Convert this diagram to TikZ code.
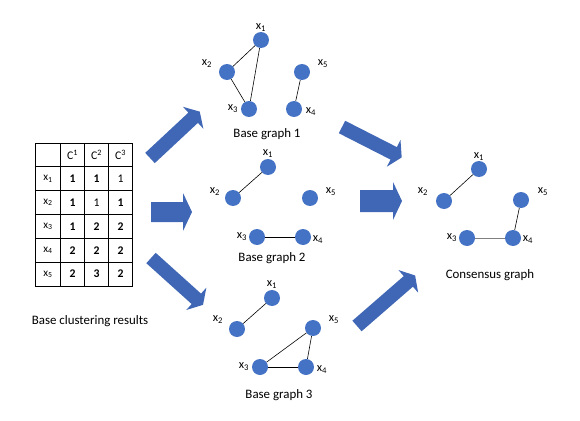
\documentclass[tikz,border=0pt]{standalone}
\usepackage{fontspec}
\setmainfont{Carlito}
\usetikzlibrary{matrix}
\definecolor{nodeblue}{HTML}{4472C4}
\definecolor{arrowblue}{HTML}{4067B5}
% fat arrow: tail x, tail y, angle, length, shaft half width, head half width
\newcommand{\fatarrow}[6]{%
  \fill[arrowblue, shift={(#1,#2)}, rotate=#3]
    (0,-#5) -- (#4-9,-#5) -- (#4-9,-#6) -- (#4,0) -- (#4-9,#6) -- (#4-9,#5) -- (0,#5) -- cycle;}
\begin{document}
\begin{tikzpicture}[x=0.03cm, y=-0.03cm]
  \tikzset{vtx/.style={circle, fill=nodeblue, minimum size=0.48cm, inner sep=0pt},
           lbl/.style={font=\fontsize{10.5}{12}\selectfont, inner sep=0pt},
           gcap/.style={font=\fontsize{11}{13}\selectfont, inner sep=0pt},
           edge/.style={black, line width=0.5pt}}
  \useasboundingbox (0,0) rectangle (580,421);

  % base clustering results
  \matrix (tab) [matrix of nodes, column sep=-0.6pt, row sep=-0.6pt,
    nodes={draw, line width=0.6pt, anchor=center, minimum width=0.72cm, minimum height=0.715cm,
           inner sep=0pt, font=\fontsize{10}{12}\selectfont},
    column 1/.style={nodes={minimum width=0.75cm, font=\fontsize{9.5}{11}\selectfont}}]
    at (84,214.5) {
    \phantom{x} & C\textsuperscript{1} & C\textsuperscript{2} & C\textsuperscript{3} \\
    x\textsubscript{1} & \textbf{1} & \textbf{1} & 1 \\
    x\textsubscript{2} & \textbf{1} & 1 & \textbf{1} \\
    x\textsubscript{3} & \textbf{1} & \textbf{2} & \textbf{2} \\
    x\textsubscript{4} & \textbf{2} & \textbf{2} & \textbf{2} \\
    x\textsubscript{5} & \textbf{2} & \textbf{3} & \textbf{2} \\
  };
  \node[gcap] (tabcap) at (90,321) {Base clustering results};

  % base graph 1
  \node[vtx] (a1) at (261,40) {};
  \node[vtx] (a2) at (227,72) {};
  \node[vtx] (a3) at (249,109) {};
  \node[vtx] (a4) at (294,109) {};
  \node[vtx] (a5) at (302,72) {};
  \node[lbl] (la1) at (261,28) {x\textsubscript{1}};
  \node[lbl] (la2) at (207,64) {x\textsubscript{2}};
  \node[lbl] (la3) at (233,109) {x\textsubscript{3}};
  \node[lbl] (la4) at (311,112) {x\textsubscript{4}};
  \node[lbl] (la5) at (323,64) {x\textsubscript{5}};
  \draw[edge] (a1) -- (a2);
  \draw[edge] (a1) -- (a3);
  \draw[edge] (a2) -- (a3);
  \draw[edge] (a5) -- (a4);
  \node[gcap] (capa) at (267,134) {Base graph 1};

  % base graph 2
  \node[vtx] (b1) at (268,167) {};
  \node[vtx] (b2) at (233,198) {};
  \node[vtx] (b3) at (257,237) {};
  \node[vtx] (b4) at (303,237) {};
  \node[vtx] (b5) at (310,198) {};
  \node[lbl] (lb1) at (268,154) {x\textsubscript{1}};
  \node[lbl] (lb2) at (215,192) {x\textsubscript{2}};
  \node[lbl] (lb3) at (242,237) {x\textsubscript{3}};
  \node[lbl] (lb4) at (318,240) {x\textsubscript{4}};
  \node[lbl] (lb5) at (331,192) {x\textsubscript{5}};
  \draw[edge] (b1) -- (b2);
  \draw[edge] (b3) -- (b4);
  \node[gcap] (capb) at (272,258) {Base graph 2};

  % base graph 3
  \node[vtx] (c1) at (272,298) {};
  \node[vtx] (c2) at (237,329) {};
  \node[vtx] (c3) at (260,367) {};
  \node[vtx] (c4) at (306,367) {};
  \node[vtx] (c5) at (313,328) {};
  \node[lbl] (lc1) at (272,285) {x\textsubscript{1}};
  \node[lbl] (lc2) at (218,320) {x\textsubscript{2}};
  \node[lbl] (lc3) at (244,367) {x\textsubscript{3}};
  \node[lbl] (lc4) at (322,370) {x\textsubscript{4}};
  \node[lbl] (lc5) at (334,320) {x\textsubscript{5}};
  \draw[edge] (c1) -- (c2);
  \draw[edge] (c5) -- (c3);
  \draw[edge] (c5) -- (c4);
  \draw[edge] (c3) -- (c4);
  \node[gcap] (capc) at (279,395) {Base graph 3};

  % consensus graph
  \node[vtx] (d1) at (479,169) {};
  \node[vtx] (d2) at (444,201) {};
  \node[vtx] (d3) at (467,238) {};
  \node[vtx] (d4) at (513,238) {};
  \node[vtx] (d5) at (521,200) {};
  \node[lbl] (ld1) at (479,157) {x\textsubscript{1}};
  \node[lbl] (ld2) at (423,192) {x\textsubscript{2}};
  \node[lbl] (ld3) at (452,238) {x\textsubscript{3}};
  \node[lbl] (ld4) at (528,240) {x\textsubscript{4}};
  \node[lbl] (ld5) at (543,192) {x\textsubscript{5}};
  \draw[edge] (d1) -- (d2);
  \draw[edge] (d5) -- (d4);
  \draw[edge, gray] (d3) -- (d4);
  \node[gcap] (capd) at (490,275) {Consensus graph};

  % fat arrows
  \fatarrow{150}{158}{43}{68}{7}{15}
  \fatarrow{151}{212}{0}{41}{10}{19}
  \fatarrow{151}{258}{-42}{70}{7}{15}
  \fatarrow{342}{127}{-27}{67}{7}{15}
  \fatarrow{360}{201}{0}{42}{11}{19}
  \fatarrow{357}{326}{41}{77}{7}{15}
\end{tikzpicture}
\end{document}
